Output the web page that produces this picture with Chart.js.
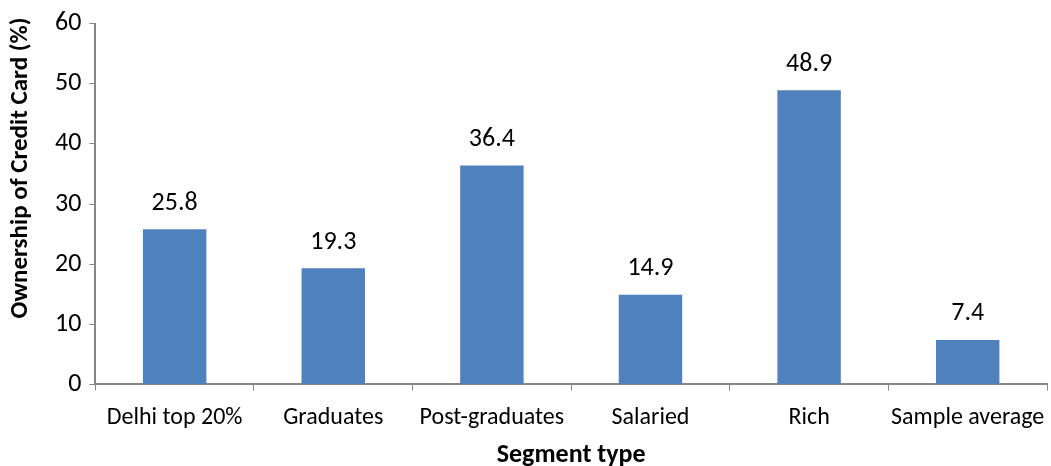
<!DOCTYPE html>
<html><head><meta charset="utf-8">
<script src="https://cdn.jsdelivr.net/npm/chart.js@4"></script>
<style>html,body{margin:0;padding:0;background:#fff}#wrap{width:1051px;height:466px}</style>
</head><body><div id="wrap"><canvas id="c"></canvas></div>
<script>
const categories = ["Delhi top 20%", "Graduates", "Post-graduates", "Salaried", "Rich", "Sample average"];
const ownership = [25.8, 19.3, 36.4, 14.9, 48.9, 7.4];
const yTicks = [0, 10, 20, 30, 40, 50, 60];
const yTitle = 'Ownership of Credit Card (%)';
const FONT = "Carlito, Calibri, 'Open Sans', sans-serif";

const labelPlugin = {
  id: 'vals',
  afterDatasetsDraw(chart) {
    const ctx = chart.ctx;
    const meta = chart.getDatasetMeta(0);
    ctx.save();
    ctx.font = '26px ' + FONT;
    ctx.fillStyle = '#000';
    ctx.textAlign = 'center';
    ctx.textBaseline = 'middle';
    meta.data.forEach((bar, i) => {
      ctx.fillText(ownership[i].toFixed(1), bar.x, bar.y - 26);
    });
    // rotated y-axis title
    ctx.font = 'bold 25px ' + FONT;
    ctx.translate(21, 168);
    ctx.rotate(-Math.PI / 2);
    ctx.fillText(yTitle, 0, 0);
    ctx.restore();
  }
};

new Chart(document.getElementById('c'), {
  type: 'bar',
  data: { labels: categories, datasets: [{ data: ownership, backgroundColor: '#4F81BD', categoryPercentage: 0.4, barPercentage: 1.0 }] },
  options: {
    responsive: true, maintainAspectRatio: false, animation: false,
    layout: { padding: { top: 10, right: 4, left: 47, bottom: 0 } },
    plugins: { legend: { display: false }, tooltip: { enabled: false } },
    scales: {
      x: {
        afterFit(scale) { scale.paddingRight = 0; scale.paddingLeft = 0; },
        grid: { drawOnChartArea: false, drawTicks: true, tickLength: 6, color: '#868686', offset: true },
        border: { color: '#868686', width: 2 },
        ticks: { color: '#000', font: { size: 24, family: FONT }, padding: 13, maxRotation: 0 },
        title: { display: true, text: 'Segment type', color: '#000', font: { size: 26, weight: 'bold', family: FONT, lineHeight: 0.8 }, padding: { top: 0, bottom: 0 } }
      },
      y: {
        min: 0, max: 60,
        afterBuildTicks(axis) { axis.ticks = yTicks.map(v => ({ value: v })); },
        grid: { drawOnChartArea: false, drawTicks: true, tickLength: 6, color: '#868686' },
        border: { color: '#868686', width: 2 },
        ticks: { color: '#000', font: { size: 26, family: FONT }, padding: 8 }
      }
    }
  },
  plugins: [labelPlugin]
});
</script></body></html>
